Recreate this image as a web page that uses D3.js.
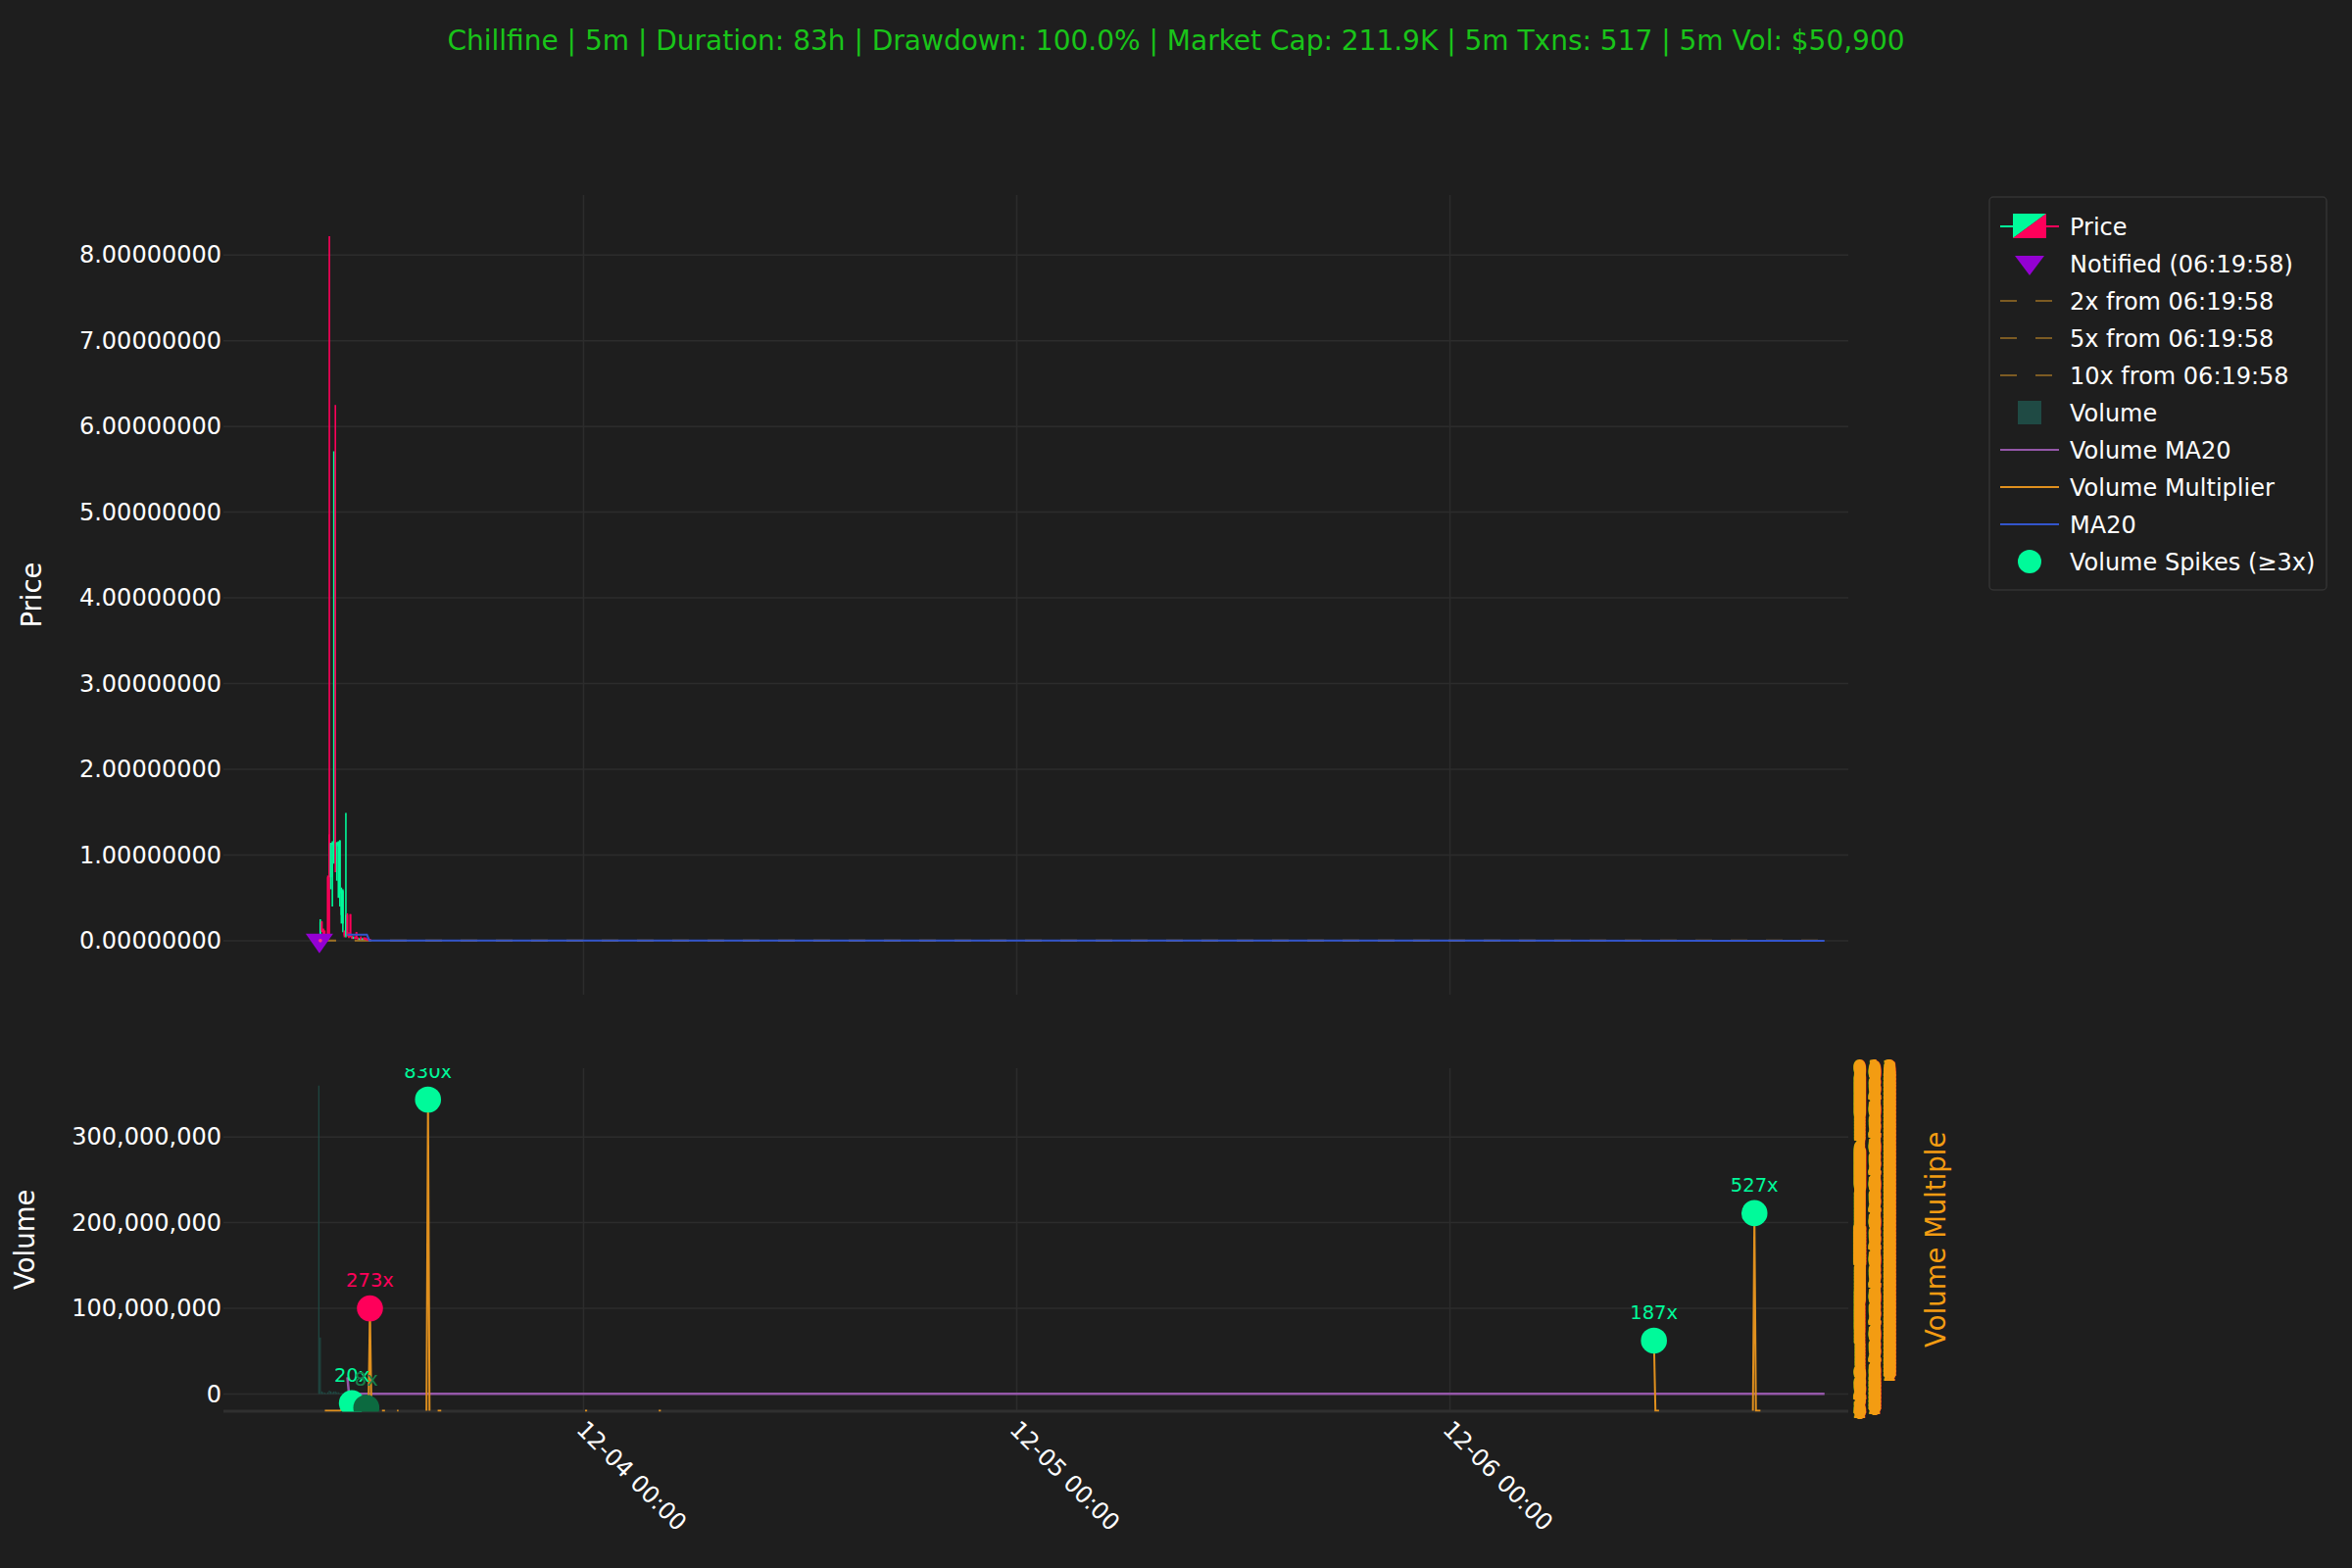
<!DOCTYPE html>
<html><head><meta charset="utf-8">
<script src="https://cdn.jsdelivr.net/npm/d3@7"></script>
<style>
html,body{margin:0;padding:0;background:#1e1e1e;}
svg{display:block;font-family:"DejaVu Sans",sans-serif;}
</style></head>
<body>
<svg id="chart" width="2400" height="1600"></svg>
<script>
// ---------------- DATA ----------------
const titleText = "Chillfine | 5m | Duration: 83h | Drawdown: 100.0% | Market Cap: 211.9K | 5m Txns: 517 | 5m Vol: $50,900";

const candleTimes = [
 "2024-12-03 09:20","2024-12-03 09:25","2024-12-03 09:30","2024-12-03 09:35","2024-12-03 09:40",
 "2024-12-03 09:45","2024-12-03 09:50","2024-12-03 09:55","2024-12-03 10:00","2024-12-03 10:05",
 "2024-12-03 10:10","2024-12-03 10:15","2024-12-03 10:20","2024-12-03 10:25","2024-12-03 10:30",
 "2024-12-03 10:35","2024-12-03 10:40","2024-12-03 10:45","2024-12-03 10:50","2024-12-03 10:55",
 "2024-12-03 11:00","2024-12-03 11:05","2024-12-03 11:10","2024-12-03 11:15","2024-12-03 11:20",
 "2024-12-03 11:25","2024-12-03 11:30","2024-12-03 11:35","2024-12-03 11:40","2024-12-03 11:45",
 "2024-12-03 11:50","2024-12-03 11:55","2024-12-03 12:00","2024-12-03 12:05","2024-12-03 12:10"
];
const candleOpen  = [0.01,0.04,0.22,0.14,0.07,0.05,0.74,1.24,0.74,1.12,1.14,1.16,1.10,1.12,0.55,0.30,0.20,0.10,0.06,0.30,0.07,0.31,0.05,0.03,0.04,0.10,0.03,0.02,0.04,0.02,0.03,0.03,0.02,0.03,0.02];
const candleHigh  = [0.05,0.25,0.23,0.14,0.12,0.06,0.76,8.22,1.14,1.16,5.71,6.25,1.15,1.16,1.17,0.62,0.60,0.12,1.49,0.32,0.10,0.31,0.06,0.05,0.05,0.10,0.04,0.03,0.05,0.03,0.04,0.04,0.03,0.03,0.02];
const candleLow   = [0.00,0.02,0.10,0.06,0.04,0.02,0.02,0.05,0.60,0.40,0.90,0.80,0.70,0.50,0.40,0.20,0.10,0.04,0.04,0.05,0.03,0.04,0.02,0.02,0.02,0.02,0.01,0.01,0.01,0.01,0.01,0.01,0.00,0.00,0.00];
const candleClose = [0.04,0.22,0.12,0.07,0.05,0.03,0.05,0.74,1.14,1.14,1.16,1.14,1.14,1.15,1.17,0.60,0.58,0.06,0.30,0.07,0.05,0.05,0.03,0.04,0.03,0.03,0.02,0.02,0.02,0.02,0.02,0.02,0.01,0.01,0.00];
const candleVolume = [360e6,66e6,3e6,2e6,1.5e6,1e6,2e6,4e6,3e6,2e6,3e6,3e6,2e6,2e6,1e6,1e6,1e6,0.5e6,1e6,0.5e6,0.3e6,0.3e6,0.2e6,0.2e6,0.2e6,0.2e6,0.1e6,0.1e6,0.1e6,0.1e6,0.1e6,0.1e6,0.1e6,0.1e6,0.1e6];

const priceMA20Times  = ["2024-12-03 10:55","2024-12-03 12:00","2024-12-03 12:08","2024-12-06 20:45"];
const priceMA20Values = [0.07,0.07,0.002,0.0];

const volMA20Times  = ["2024-12-03 10:55","2024-12-03 11:00","2024-12-03 11:05","2024-12-06 20:45"];
const volMA20Values = [19.5e6,1.5e6,0.3e6,0.2e6];

// volume multiplier line (null = gap)
const multTimes = [
 "2024-12-03 09:40","2024-12-03 10:30","2024-12-03 11:10","2024-12-03 11:20",null,
 "2024-12-03 12:05","2024-12-03 12:10","2024-12-03 12:15",null,
 "2024-12-03 12:50","2024-12-03 13:00",null,
 "2024-12-03 13:40","2024-12-03 13:45",null,
 "2024-12-03 15:18","2024-12-03 15:23","2024-12-03 15:28",null,
 "2024-12-03 15:55","2024-12-03 16:07",null,
 "2024-12-04 00:05","2024-12-04 00:12",null,
 "2024-12-04 04:10","2024-12-04 04:17",null,
 "2024-12-06 11:18","2024-12-06 11:23","2024-12-06 11:35",null,
 "2024-12-06 16:47","2024-12-06 16:52","2024-12-06 16:57","2024-12-06 17:12"
];
const multValues = [
 0,0,20,0,null,
 0,273,0,null,
 0,0,null,
 0,0,null,
 0,830,0,null,
 0,0,null,
 0,0,null,
 0,0,null,
 187,0,0,null,
 0,527,0,0
];

const spikeTimes  = ["2024-12-03 11:10","2024-12-03 11:58","2024-12-03 12:10","2024-12-03 15:23","2024-12-06 11:18","2024-12-06 16:52"];
const spikeValues = [20,8,273,830,187,527];
const spikeLabels = ["20x","8x","273x","830x","187x","527x"];
const spikeKinds  = ["up","weak","down","up","up","up"];

const notifyTime  = "2024-12-03 09:22";
const notifyPrice = 0.0005;
const notifyLabel = "Notified (06:19:58)";
const targetMultiples = [2,5,10];
const targetLabels = ["2x from 06:19:58","5x from 06:19:58","10x from 06:19:58"];

const xDomain = ["2024-12-03 04:03","2024-12-06 22:04"];
const xTickValues = ["2024-12-04 00:00","2024-12-05 00:00","2024-12-06 00:00"];
const priceTicks = [0,1,2,3,4,5,6,7,8];
const priceDomain = [-0.63,8.70];
const volTicks = [0,100e6,200e6,300e6];
const volDomain = [-19.5e6,380.3e6];
const multDomain = [0,913.7];
const multTickStep = 2;

const legendLabels = ["Price",notifyLabel,...targetLabels,"Volume","Volume MA20","Volume Multiplier","MA20","Volume Spikes (≥3x)"];

// ---------------- STYLE ----------------
const C = {
  bg:"#1e1e1e", grid:"#2c2c2c", text:"#ffffff", title:"#19c419",
  up:"#00fa9a", down:"#ff005a", weak:"#0c6a40",
  vol:"#1f4a44", volMA:"#9457a8", mult:"#e0901e", ma:"#3355cc",
  target:"#9c7026", notify:"#9400d3", orange:"#f39c12", spine:"#2f2f2f"
};
const spikeColor = {up:C.up, weak:C.weak, down:C.down};
const FS = 24;

const parse = d3.utcParse("%Y-%m-%d %H:%M");
const svg = d3.select("#chart");
svg.append("rect").attr("width",2400).attr("height",1600).attr("fill",C.bg);

const L = 228, R = 1886;
const topP = {t:199, b:1015};
const botP = {t:1090, b:1439.5};

const x = d3.scaleUtc().domain(xDomain.map(parse)).range([L,R]);
const yP = d3.scaleLinear().domain(priceDomain).range([topP.b, topP.t]);
const yV = d3.scaleLinear().domain(volDomain).range([botP.b, botP.t]);
const yM = d3.scaleLinear().domain(multDomain).range([botP.b, botP.t]);

const candles = candleTimes.map((t,i)=>({t:parse(t),o:candleOpen[i],h:candleHigh[i],l:candleLow[i],c:candleClose[i],v:candleVolume[i]}));

// title
svg.append("text").attr("x",1200).attr("y",51).attr("text-anchor","middle")
  .attr("fill",C.title).attr("font-size",28).text(titleText);

// clip paths
const defs = svg.append("defs");
defs.append("clipPath").attr("id","clipTop").append("rect").attr("x",L).attr("y",topP.t).attr("width",R-L).attr("height",topP.b-topP.t);
defs.append("clipPath").attr("id","clipBot").append("rect").attr("x",L).attr("y",botP.t).attr("width",R-L).attr("height",botP.b-botP.t+1);

// ---------- TOP PANEL ----------
const gT = svg.append("g");
gT.selectAll(".hg").data(priceTicks).join("line")
  .attr("x1",L).attr("x2",R).attr("y1",d=>yP(d)).attr("y2",d=>yP(d))
  .attr("stroke",C.grid).attr("stroke-width",1.5);
gT.selectAll(".vg").data(xTickValues.map(parse)).join("line")
  .attr("x1",d=>x(d)).attr("x2",d=>x(d)).attr("y1",topP.t).attr("y2",topP.b)
  .attr("stroke",C.grid).attr("stroke-width",1.5);

const yAxisP = svg.append("g").attr("transform",`translate(${L},0)`)
  .call(d3.axisLeft(yP).tickValues(priceTicks).tickFormat(d=>d.toFixed(8)).tickSize(0).tickPadding(2));
yAxisP.select(".domain").remove();
yAxisP.selectAll("text").attr("fill",C.text).attr("font-size",FS).attr("font-family","DejaVu Sans");

svg.append("text").attr("transform",`translate(32,${(topP.t+topP.b)/2}) rotate(-90)`)
  .attr("text-anchor","middle").attr("dy","0.35em").attr("fill",C.text).attr("font-size",27.5).text("Price");

const plotT = gT.append("g").attr("clip-path","url(#clipTop)");
// target lines
const nT = parse(notifyTime), lastT = parse(priceMA20Times[priceMA20Times.length-1]);
plotT.selectAll(".tgt").data(targetMultiples).join("line")
  .attr("x1",x(nT)).attr("x2",x(lastT)).attr("y1",d=>yP(notifyPrice*d)).attr("y2",d=>yP(notifyPrice*d))
  .attr("stroke",C.target).attr("stroke-width",1.5).attr("stroke-dasharray","17,19");
// candles
const cw = 1.8;
const cg = plotT.selectAll(".candle").data(candles).join("g");
cg.append("line").attr("x1",d=>x(d.t)).attr("x2",d=>x(d.t)).attr("y1",d=>yP(d.h)).attr("y2",d=>yP(d.l))
  .attr("stroke",d=>d.c>=d.o?C.up:C.down).attr("stroke-width",1.6);
cg.append("rect").attr("x",d=>x(d.t)-cw/2).attr("width",cw)
  .attr("y",d=>yP(Math.max(d.o,d.c))).attr("height",d=>Math.max(1,Math.abs(yP(d.o)-yP(d.c))))
  .attr("fill",d=>d.c>=d.o?C.up:C.down);
// MA20
plotT.append("path").datum(priceMA20Times.map((t,i)=>[parse(t),priceMA20Values[i]]))
  .attr("d",d3.line().x(d=>x(d[0])).y(d=>yP(d[1])))
  .attr("fill","none").attr("stroke",C.ma).attr("stroke-width",2);
// notify marker
const nx = x(nT), ny = yP(notifyPrice);
plotT.append("path").attr("d",`M${nx-14},${ny-7}L${nx+14},${ny-7}L${nx},${ny+13}Z`).attr("fill",C.notify);
plotT.append("circle").attr("cx",nx+1).attr("cy",ny).attr("r",1.8).attr("fill","#ff3a80");

// ---------- BOTTOM PANEL ----------
const gB = svg.append("g");
gB.selectAll(".hg").data(volTicks).join("line")
  .attr("x1",L).attr("x2",R).attr("y1",d=>yV(d)).attr("y2",d=>yV(d))
  .attr("stroke",C.grid).attr("stroke-width",1.5);
gB.selectAll(".vg").data(xTickValues.map(parse)).join("line")
  .attr("x1",d=>x(d)).attr("x2",d=>x(d)).attr("y1",botP.t).attr("y2",botP.b)
  .attr("stroke",C.grid).attr("stroke-width",1.5);

const yAxisV = svg.append("g").attr("transform",`translate(${L},0)`)
  .call(d3.axisLeft(yV).tickValues(volTicks).tickFormat(d3.format(",")).tickSize(0).tickPadding(2));
yAxisV.select(".domain").remove();
yAxisV.selectAll("text").attr("fill",C.text).attr("font-size",FS).attr("font-family","DejaVu Sans");

svg.append("text").attr("transform",`translate(25,${(botP.t+botP.b)/2}) rotate(-90)`)
  .attr("text-anchor","middle").attr("dy","0.35em").attr("fill",C.text).attr("font-size",27.5).text("Volume");

const plotB = gB.append("g").attr("clip-path","url(#clipBot)");
plotB.selectAll(".vb").data(candles).join("rect")
  .attr("x",d=>x(d.t)-0.6).attr("width",1.2)
  .attr("y",d=>yV(d.v)).attr("height",d=>yV(0)-yV(d.v))
  .attr("fill",C.vol);
plotB.append("path").datum(volMA20Times.map((t,i)=>[parse(t),volMA20Values[i]]))
  .attr("d",d3.line().x(d=>x(d[0])).y(d=>yV(d[1])))
  .attr("fill","none").attr("stroke",C.volMA).attr("stroke-width",2.5);

// spine
svg.append("line").attr("x1",L).attr("x2",R).attr("y1",1440).attr("y2",1440)
  .attr("stroke",C.spine).attr("stroke-width",3);

const plotB2 = svg.append("g").attr("clip-path","url(#clipBot)");
const multPts = multTimes.map((t,i)=>({t:t?parse(t):null,v:multValues[i]}));
plotB2.append("path").datum(multPts)
  .attr("d",d3.line().defined(d=>d.t!==null&&d.v!==null).x(d=>x(d.t)).y(d=>yM(d.v)))
  .attr("fill","none").attr("stroke",C.mult).attr("stroke-width",2);

const spikes = spikeTimes.map((t,i)=>({t:parse(t),v:spikeValues[i],lab:spikeLabels[i],k:spikeKinds[i]}));
plotB2.selectAll(".sp").data(spikes).join("circle")
  .attr("cx",d=>x(d.t)).attr("cy",d=>yM(d.v)).attr("r",13.3).attr("fill",d=>spikeColor[d.k]);
plotB2.selectAll(".spl").data(spikes).join("text")
  .attr("x",d=>x(d.t)).attr("y",d=>yM(d.v)-22).attr("text-anchor","middle")
  .attr("font-size",19.5).attr("fill",d=>d.k==="weak"?"#17804d":spikeColor[d.k]).text(d=>d.lab);

// right axis (volume multiple) - densely packed tick labels, as in the reference
const yAxisM = svg.append("g").attr("transform",`translate(${R},0)`)
  .call(d3.axisRight(yM).tickValues(d3.range(multDomain[0],multDomain[1],multTickStep)).tickFormat(d3.format("d")).tickSize(0).tickPadding(4));
yAxisM.select(".domain").remove();
yAxisM.selectAll("text").attr("fill",C.orange).attr("font-size",FS).attr("font-family","DejaVu Sans");
svg.append("text").attr("transform",`translate(1975,${(botP.t+botP.b)/2}) rotate(-90)`)
  .attr("text-anchor","middle").attr("dy","0.35em").attr("fill",C.orange).attr("font-size",27.5).text("Volume Multiple");

// x axis
const xAxis = svg.append("g").attr("transform","translate(0,1440)")
  .call(d3.axisBottom(x).tickValues(xTickValues.map(parse)).tickFormat(d3.utcFormat("%m-%d %H:%M")).tickSize(0));
xAxis.select(".domain").remove();
xAxis.selectAll("text").attr("fill",C.text).attr("font-size",FS).attr("font-family","DejaVu Sans")
  .attr("y",null).attr("dy",null).attr("text-anchor","start")
  .attr("transform","translate(-9,20) rotate(45)");

// ---------- LEGEND ----------
const lg = svg.append("g");
lg.append("rect").attr("x",2030).attr("y",201).attr("width",344).attr("height",401).attr("rx",4)
  .attr("fill",C.bg).attr("stroke","#333333").attr("stroke-width",1.5);
const rowY = i => 231 + i*38;
const hx0 = 2041, hx1 = 2101, hc = 2071;
legendLabels.forEach((lab,i)=>{
  lg.append("text").attr("x",2112).attr("y",rowY(i)).attr("dy","0.36em").attr("fill",C.text)
    .attr("font-size",FS).text(lab);
});
// Price handle
{
  const y=rowY(0);
  lg.append("line").attr("x1",hx0).attr("x2",2054).attr("y1",y).attr("y2",y).attr("stroke",C.up).attr("stroke-width",2);
  lg.append("line").attr("x1",2088).attr("x2",hx1).attr("y1",y).attr("y2",y).attr("stroke",C.down).attr("stroke-width",2);
  lg.append("path").attr("d",`M2054,${y-13}L2088,${y-13}L2054,${y+12}Z`).attr("fill",C.up);
  lg.append("path").attr("d",`M2088,${y-13}L2088,${y+12}L2054,${y+12}Z`).attr("fill",C.down);
}
// Notified
{ const y=rowY(1)-1;
  lg.append("path").attr("d",`M${hc-15},${y-7}L${hc+15},${y-7}L${hc},${y+13}Z`).attr("fill",C.notify); }
// targets
[2,3,4].forEach(i=>{
  lg.append("line").attr("x1",hx0).attr("x2",hx1).attr("y1",rowY(i)).attr("y2",rowY(i))
    .attr("stroke",C.target).attr("stroke-width",1.5).attr("stroke-dasharray","17,19");
});
// volume square
lg.append("rect").attr("x",2059).attr("y",rowY(5)-12).attr("width",24).attr("height",24).attr("fill",C.vol);
[[6,C.volMA],[7,C.mult],[8,C.ma]].forEach(([i,c])=>{
  lg.append("line").attr("x1",hx0).attr("x2",hx1).attr("y1",rowY(i)).attr("y2",rowY(i)).attr("stroke",c).attr("stroke-width",2);
});
lg.append("circle").attr("cx",hc).attr("cy",rowY(9)).attr("r",12).attr("fill",C.up);
</script>
</body></html>
